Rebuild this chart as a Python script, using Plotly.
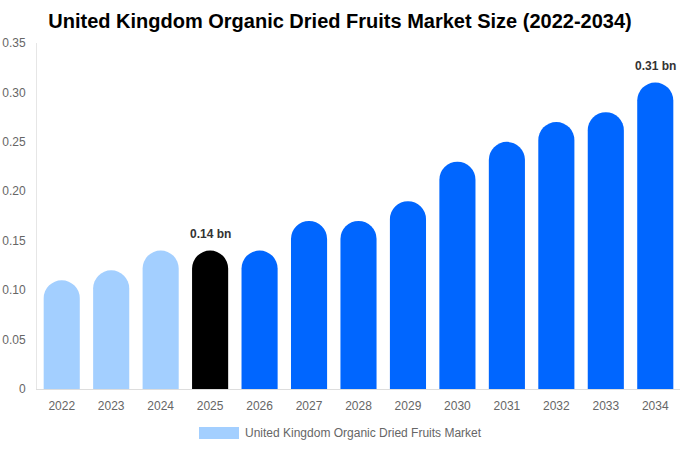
import plotly.graph_objects as go

years = ["2022", "2023", "2024", "2025", "2026", "2027", "2028",
         "2029", "2030", "2031", "2032", "2033", "2034"]
market_size = [0.11, 0.12, 0.14, 0.14, 0.14, 0.17, 0.17,
               0.19, 0.23, 0.25, 0.27, 0.28, 0.31]
bar_colors = ["#a3cfff"] * 3 + ["#000000"] + ["#0066ff"] * 9
labels = ["", "", "", "0.14 bn", "", "", "", "", "", "", "", "", "0.31 bn"]
ytick_vals = [0, 0.05, 0.10, 0.15, 0.20, 0.25, 0.30, 0.35]
ytick_text = ["0", "0.05", "0.10", "0.15", "0.20", "0.25", "0.30", "0.35"]
series_name = "United Kingdom Organic Dried Fruits Market"

fig = go.Figure()
fig.add_trace(go.Bar(
    x=years, y=market_size,
    name=series_name,
    marker=dict(color=bar_colors, cornerradius="50%", line=dict(width=0)),
    cliponaxis=False,
    showlegend=False,
))

# value labels above the highlighted bars (x given as category index)
for i, (val, lab) in enumerate(zip(market_size, labels)):
    if lab:
        fig.add_annotation(x=i, y=val, text=f"<b>{lab}</b>", showarrow=False,
                           yanchor="bottom", yshift=8,
                           font=dict(family="Liberation Sans", size=12, color="#333333"))

fig.update_layout(
    width=680, height=450,
    margin=dict(l=37, r=0, t=43, b=61, autoexpand=False),
    paper_bgcolor="white", plot_bgcolor="white",
    font=dict(family="Liberation Sans", size=12, color="#666666"),
    title=dict(text="<b>United Kingdom Organic Dried Fruits Market Size (2022-2034)</b>",
               x=0.5, xanchor="center", xref="container", y=1 - 21 / 450, yanchor="middle",
               font=dict(family="Liberation Sans", size=20, color="#000000")),
    bargap=0.27,
    showlegend=False,
)

# hand-made legend: wide swatch + label
fig.add_shape(type="rect", xref="paper", yref="paper",
              xsizemode="pixel", ysizemode="pixel",
              xanchor=(199 - 37) / 643, yanchor=-44 / 346,
              x0=0, x1=40, y0=-6, y1=6,
              fillcolor="#a3cfff", line=dict(width=0))
fig.add_annotation(text=series_name, xref="paper", yref="paper",
                   x=(243 - 37) / 643, y=-44 / 346, xanchor="left", yanchor="middle",
                   showarrow=False, font=dict(size=12, color="#666666"))

fig.update_xaxes(type="category", showgrid=False, showline=True, linecolor="#dddddd",
                 linewidth=1, ticks="", ticklabelstandoff=6, automargin=False,
                 tickfont=dict(size=12, color="#666666"))
fig.update_yaxes(range=[0, 0.35], tickvals=ytick_vals, ticktext=ytick_text,
                 showgrid=False, showline=True, linecolor="#e6e6e6", linewidth=1,
                 zeroline=False, ticks="", ticklabelstandoff=8, automargin=False,
                 tickfont=dict(size=12, color="#666666"))

# drop the browser's default 8px body margin so the figure sits at the window's corner
fig.write_html("out.html", config={"displayModeBar": False},
               post_script="document.body.style.margin='0';")
